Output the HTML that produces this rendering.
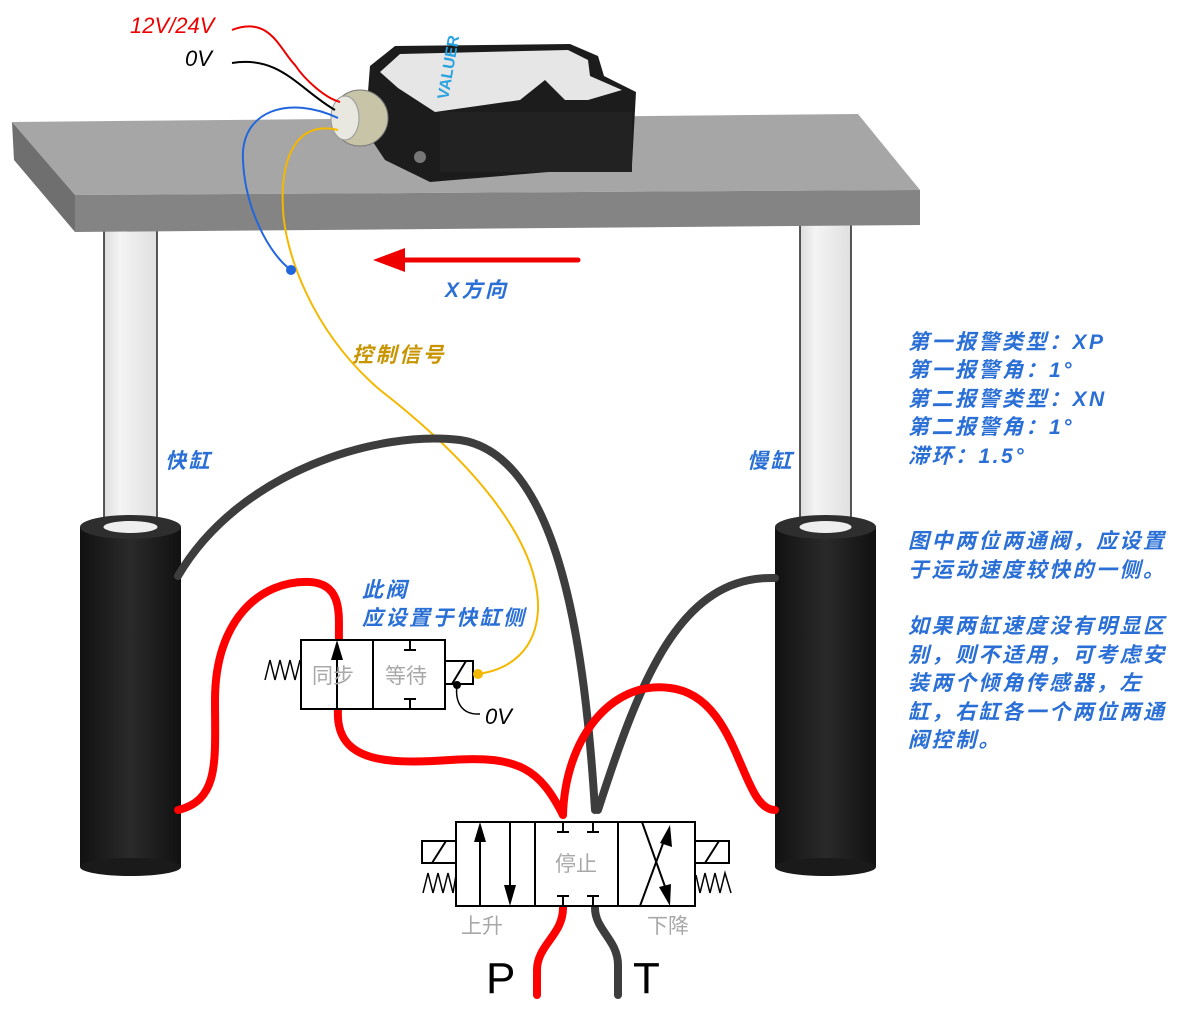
<!DOCTYPE html>
<html><head><meta charset="utf-8"><style>
html,body{margin:0;padding:0;background:#fff;}
svg{display:block}
.b{font-family:"Liberation Sans","Noto Sans CJK SC",sans-serif;font-style:italic;font-weight:bold;fill:#2a6fd6;font-size:20px}
.r{font-size:21px;letter-spacing:2.5px}
.g{font-family:"Liberation Sans","Noto Sans CJK SC",sans-serif;fill:#a8a8a8;font-size:21px}
</style></head><body>
<svg width="1182" height="1015" viewBox="0 0 1182 1015" xmlns="http://www.w3.org/2000/svg">
<defs>
<linearGradient id="leg" x1="0" x2="1"><stop offset="0" stop-color="#ddd"/><stop offset="0.3" stop-color="#f4f4f4"/><stop offset="1" stop-color="#e0e0e0"/></linearGradient>
<linearGradient id="cyl" x1="0" x2="1"><stop offset="0" stop-color="#111"/><stop offset="0.5" stop-color="#2a2a2a"/><stop offset="1" stop-color="#111"/></linearGradient>
</defs>
<rect x="104" y="228" width="53" height="300" fill="url(#leg)" stroke="#222" stroke-width="1.5"/>
<rect x="800" y="222" width="51" height="306" fill="url(#leg)" stroke="#222" stroke-width="1.5"/>
<rect x="80" y="527" width="101" height="340" fill="url(#cyl)"/>
<ellipse cx="130.5" cy="867" rx="50.5" ry="9" fill="#1a1a1a"/>
<ellipse cx="130.5" cy="527" rx="50.5" ry="12" fill="#2e2e2e"/>
<ellipse cx="130.5" cy="527" rx="27" ry="6" fill="#eee"/>
<rect x="775" y="527" width="101" height="340" fill="url(#cyl)"/>
<ellipse cx="825.5" cy="867" rx="50.5" ry="9" fill="#1a1a1a"/>
<ellipse cx="825.5" cy="527" rx="50.5" ry="12" fill="#2e2e2e"/>
<ellipse cx="825.5" cy="527" rx="26" ry="6" fill="#eee"/>
<polygon points="12,122 858,114 920,190 75,195" fill="#a6a6a6"/>
<polygon points="12,122 75,195 75,232 14,160" fill="#6f6f6f"/>
<polygon points="75,195 920,190 920,225 75,232" fill="#848484"/>
<!-- sensor -->
<polygon points="370,66 395,46 570,44 598,56 604,76 636,92 632,165 430,182 385,160 365,130" fill="#1c1c1c"/>
<polygon points="380,72 400,54 568,50 588,60 590,76 622,90 588,100 565,100 545,80 520,100 435,112 398,88" fill="#e6e6e6"/>
<rect x="440" y="112" width="192" height="60" fill="#222"/>
<circle cx="420" cy="157" r="6" fill="#777"/>
<text x="448" y="100" transform="rotate(-80 448 100)" font-family="Liberation Sans" font-weight="bold" font-size="16" fill="#29a3e0">VALUER</text>
<ellipse cx="360" cy="118" rx="28" ry="28" fill="#c8c4a8" stroke="#777"/>
<ellipse cx="345" cy="118" rx="14" ry="22" fill="#e8e8e0" stroke="#999"/>
<path d="M232,30 C270,15 280,50 295,65 C305,80 325,98 340,102" stroke="#e00" stroke-width="2" fill="none"/>
<path d="M232,63 C280,55 300,90 335,110" stroke="#000" stroke-width="2" fill="none"/>
<path d="M338,118 C290,95 240,110 243,160 C245,210 270,255 291,270" stroke="#2266dd" stroke-width="2" fill="none"/>
<path d="M338,130 C295,120 280,160 283,210 C285,250 310,330 380,390 C470,460 540,540 538,610 C536,650 510,670 477,674" stroke="#f5b800" stroke-width="2" fill="none"/>
<circle cx="291" cy="270" r="5" fill="#2266dd"/>
<text x="130" y="33" font-family="Liberation Sans" font-style="italic" font-size="22" fill="#e00">12V/24V</text>
<text x="185" y="66" font-family="Liberation Sans" font-style="italic" font-size="22" fill="#000">0V</text>
<line x1="400" y1="260" x2="578" y2="260" stroke="#e00" stroke-width="5" stroke-linecap="round"/>
<polygon points="373,260 405,248 405,272" fill="#e00"/>
<text x="445" y="297" class="b r">X方向</text>
<text x="352" y="362" class="b r" style="fill:#c89500">控制信号</text>
<text x="165" y="468" class="b r">快缸</text>
<text x="747" y="468" class="b r">慢缸</text>
<text x="362" y="597" class="b r">此阀</text>
<text x="362" y="625" class="b r">应设置于快缸侧</text>
<text x="908" y="349" class="b r">第一报警类型：XP</text>
<text x="908" y="377" class="b r">第一报警角：1°</text>
<text x="908" y="406" class="b r">第二报警类型：XN</text>
<text x="908" y="434" class="b r">第二报警角：1°</text>
<text x="908" y="463" class="b r">滞环：1.5°</text>
<text x="908" y="548" class="b r">图中两位两通阀，应设置</text>
<text x="908" y="577" class="b r">于运动速度较快的一侧。</text>
<text x="908" y="633" class="b r">如果两缸速度没有明显区</text>
<text x="908" y="662" class="b r">别，则不适用，可考虑安</text>
<text x="908" y="690" class="b r">装两个倾角传感器，左</text>
<text x="908" y="719" class="b r">缸，右缸各一个两位两通</text>
<text x="908" y="747" class="b r">阀控制。</text>
<path d="M178,576 C240,470 380,430 460,440 C560,455 585,650 595,810" stroke="#3d3d3d" stroke-width="8" fill="none" stroke-linecap="round"/>
<path d="M775,578 C680,575 640,680 598,810" stroke="#3d3d3d" stroke-width="8" fill="none" stroke-linecap="round"/>
<path d="M595,908 C595,930 618,940 618,965 L618,995" stroke="#3d3d3d" stroke-width="8" fill="none" stroke-linecap="round"/>
<path d="M178,810 C220,800 215,760 215,700 C215,620 260,580 310,582 C345,584 338,620 339,640" stroke="#f00" stroke-width="8" fill="none" stroke-linecap="round"/>
<path d="M338,709 C335,760 380,765 450,760 C520,755 540,770 563,815" stroke="#f00" stroke-width="8" fill="none" stroke-linecap="round"/>
<path d="M563,815 C565,740 610,680 670,688 C740,696 740,810 775,810" stroke="#f00" stroke-width="8" fill="none" stroke-linecap="round"/>
<path d="M563,908 C563,935 537,945 537,970 L537,995" stroke="#f00" stroke-width="8" fill="none" stroke-linecap="round"/>
<g stroke="#000" stroke-width="2" fill="none">
<rect x="301" y="640" width="144" height="69" fill="#fff"/>
<line x1="373" y1="640" x2="373" y2="709"/>
<line x1="337" y1="660" x2="337" y2="709"/>
<line x1="410" y1="640" x2="410" y2="650"/><line x1="404" y1="650" x2="416" y2="650"/>
<line x1="410" y1="699" x2="410" y2="709"/><line x1="404" y1="699" x2="416" y2="699"/>
<rect x="445" y="661" width="28" height="23" fill="#fff"/>
<line x1="452" y1="684" x2="466" y2="661"/>
<path d="M265,680 L270,660 L275,680 L280,660 L285,680 L290,660 L295,680 L300,660" stroke-width="1.5"/>
<path d="M457,685 C455,700 460,715 480,714" stroke-width="1.5"/>
</g>
<polygon points="337,640 331,660 343,660" fill="#000"/>
<circle cx="457" cy="685" r="4" fill="#000"/>
<circle cx="478" cy="674" r="5" fill="#f5b800"/>
<text x="312" y="683" class="g">同步</text>
<text x="385" y="683" class="g">等待</text>
<text x="485" y="724" font-family="Liberation Sans" font-style="italic" font-size="22">0V</text>
<g stroke="#000" stroke-width="2" fill="none">
<rect x="456" y="822" width="239" height="84" fill="#fff"/>
<line x1="535" y1="822" x2="535" y2="906"/>
<line x1="618" y1="822" x2="618" y2="906"/>
<line x1="480" y1="840" x2="480" y2="906"/>
<line x1="510" y1="822" x2="510" y2="885"/>
<line x1="563" y1="822" x2="563" y2="832"/><line x1="557" y1="832" x2="569" y2="832"/>
<line x1="593" y1="822" x2="593" y2="832"/><line x1="587" y1="832" x2="599" y2="832"/>
<line x1="563" y1="896" x2="563" y2="906"/><line x1="557" y1="896" x2="569" y2="896"/>
<line x1="593" y1="896" x2="593" y2="906"/><line x1="587" y1="896" x2="599" y2="896"/>
<line x1="642" y1="822" x2="668" y2="895"/>
<line x1="640" y1="906" x2="665" y2="838"/>
<rect x="422" y="841" width="34" height="22" fill="#fff"/>
<line x1="432" y1="863" x2="446" y2="841"/>
<rect x="695" y="841" width="34" height="22" fill="#fff"/>
<line x1="705" y1="863" x2="719" y2="841"/>
<path d="M423,893 L428,873 L433,893 L438,873 L443,893 L448,873 L453,893 L456,875" stroke-width="1.5"/>
<path d="M696,875 L700,893 L705,873 L710,893 L715,873 L720,893 L725,873 L731,893" stroke-width="1.5"/>
</g>
<polygon points="480,822 474,842 486,842" fill="#000"/>
<polygon points="510,906 504,885 516,885" fill="#000"/>
<polygon points="670,825 660,843 672,847" fill="#000"/>
<polygon points="670,906 659,887 671,884" fill="#000"/>
<text x="555" y="871" class="g">停止</text>
<text x="461" y="933" class="g">上升</text>
<text x="647" y="933" class="g">下降</text>
<text x="486" y="993" font-family="Liberation Sans" font-size="44" fill="#000">P</text>
<text x="633" y="993" font-family="Liberation Sans" font-size="44" fill="#000">T</text>
</svg>
</body></html>
